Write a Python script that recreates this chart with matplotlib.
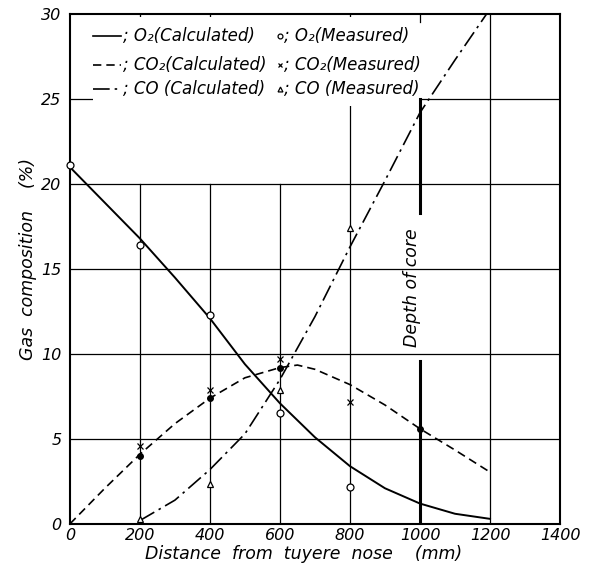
import matplotlib.pyplot as plt
from matplotlib.patches import Rectangle

plt.rcParams['font.family'] = 'DejaVu Sans'
plt.rcParams['font.style'] = 'italic'

# calculated curves
o2_x = [0, 100, 200, 300, 400, 500, 600, 700, 800, 900, 1000, 1100, 1200]
o2_calc = [21.0, 18.9, 16.8, 14.5, 12.1, 9.4, 7.1, 5.1, 3.4, 2.1, 1.2, 0.6, 0.3]
co2_x = [0, 100, 200, 300, 400, 500, 600, 650, 700, 800, 900, 1000, 1100, 1200]
co2_calc = [0.0, 2.1, 4.1, 5.9, 7.4, 8.6, 9.2, 9.35, 9.1, 8.2, 7.0, 5.6, 4.35, 3.05]
co_x = [200, 300, 400, 500, 600, 700, 800, 900, 1000, 1100, 1190]
co_calc = [0.2, 1.4, 3.2, 5.3, 8.5, 12.2, 16.3, 20.2, 24.2, 27.3, 30.0]

# measured points
o2_mx = [0, 200, 400, 600, 800]
o2_meas = [21.1, 16.4, 12.3, 6.5, 2.2]
co2_mx = [200, 400, 600, 800]
co2_meas = [4.6, 7.9, 9.7, 7.2]
co_mx = [200, 400, 600, 800]
co_meas = [0.3, 2.35, 7.9, 17.4]
# calculated CO2 points (filled dots)
co2_dx = [200, 400, 600, 1000]
co2_dots = [4.0, 7.4, 9.2, 5.6]

xticks = [0, 200, 400, 600, 800, 1000, 1200, 1400]
yticks = [0, 5, 10, 15, 20, 25, 30]
core_depth = 1000

fig = plt.figure(figsize=(5.92, 5.64), dpi=100)
ax = fig.add_axes([0.118, 0.071, 0.828, 0.904])
ax.set_xlim(0, 1400)
ax.set_ylim(0, 30)

# grid, drawn by hand like the original: some lines stop under the legend
vgrid = [200, 400, 600, 800, 1200]
vgrid_top = [20, 20, 20, 25, 30]
for gx, gt in zip(vgrid, vgrid_top):
    ax.plot([gx, gx], [0, gt], color='black', lw=0.9, zorder=1)
for gy in yticks[1:-1]:
    ax.axhline(gy, color='black', lw=0.9, zorder=1)
# short inward ticks on the top edge
for tx in [200, 400, 800, 1000]:
    ax.plot([tx, tx], [29.55, 30], color='black', lw=0.9, zorder=1)

# blank area behind the legend
ax.add_patch(Rectangle((66, 24.6), 930, 5.2, facecolor='white', edgecolor='none', zorder=2))

dashdot = (10, 3, 1.5, 3)
ax.plot(o2_x, o2_calc, color='black', lw=1.4, zorder=3)
ax.plot(co2_x, co2_calc, color='black', lw=1.2, ls=(0, (5, 3)), zorder=3)
ax.plot(co_x, co_calc, color='black', lw=1.2, ls=(0, dashdot), zorder=3)

ax.plot(o2_mx, o2_meas, 'o', mfc='white', mec='black', ms=5, mew=0.9, zorder=4, clip_on=False)
ax.plot(co2_mx, co2_meas, 'x', color='black', ms=4, mew=0.9, zorder=4)
ax.plot(co_mx, co_meas, '^', mfc='white', mec='black', ms=4.5, mew=0.9, zorder=4)
ax.plot(co2_dx, co2_dots, 'o', color='black', ms=4, zorder=4)

# depth of core line
ax.plot([core_depth, core_depth], [0, 9.6], color='black', lw=2.2, zorder=3)
ax.plot([core_depth, core_depth], [18.3, 25.0], color='black', lw=2.2, zorder=3)
ax.text(core_depth - 22, 13.9, 'Depth of core', rotation=90, ha='center', va='center',
        fontsize=12.5, zorder=5)

# hand-made legend
rows = [28.7, 27.0, 25.6]
styles = ['-', (0, (5, 3)), (0, dashdot)]
calc_labels = ['; O₂(Calculated)', '; CO₂(Calculated)', '; CO (Calculated)']
meas_labels = ['; O₂(Measured)', '; CO₂(Measured)', '; CO (Measured)']
markers = [dict(marker='o', mfc='white', mec='black', ms=3.5, mew=0.9),
           dict(marker='x', color='black', ms=3.5, mew=0.9),
           dict(marker='^', mfc='white', mec='black', ms=3.5, mew=0.9)]
for ry, st, cl, ml, mk in zip(rows, styles, calc_labels, meas_labels, markers):
    ax.plot([66, 146], [ry, ry], color='black', lw=1.2, ls=st, zorder=5)
    ax.text(152, ry, cl, fontsize=12, va='center', ha='left', zorder=5)
    ax.plot([600], [ry], ls='none', zorder=5, **mk)
    ax.text(612, ry, ml, fontsize=12, va='center', ha='left', zorder=5)

ax.set_xticks(xticks)
ax.set_yticks(yticks)
ax.set_xticklabels([str(v) for v in xticks], fontsize=11.5)
ax.set_yticklabels([str(v) for v in yticks], fontsize=11.5)
ax.tick_params(axis='x', length=0, pad=3)
ax.tick_params(axis='y', length=0, pad=6)
for sp in ax.spines.values():
    sp.set_linewidth(1.5)

ax.set_xlabel('Distance  from  tuyere  nose    (mm)', fontsize=12.5)
ax.xaxis.set_label_coords(0.476, -0.041)
ax.set_ylabel('Gas  composition    (%)', fontsize=12.5)
ax.yaxis.set_label_coords(-0.067, 0.52)

fig.savefig('out.png', dpi=100)
